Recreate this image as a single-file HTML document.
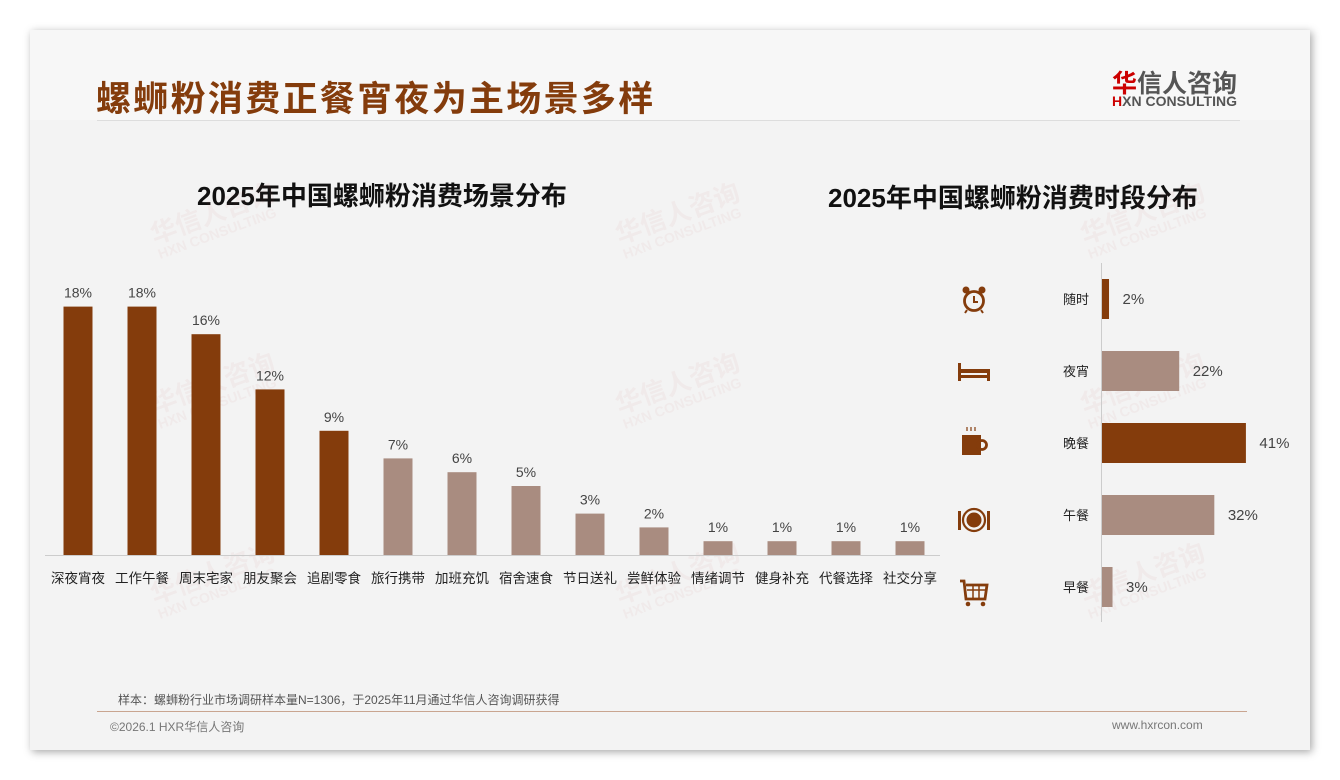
<!DOCTYPE html>
<html><head><meta charset="utf-8"><style>
body{margin:0;width:1340px;height:780px;background:#fff;font-family:"Liberation Sans","Noto Sans CJK SC",sans-serif;overflow:hidden;position:relative}
.card{position:absolute;left:30px;top:30px;width:1280px;height:720px;background:#f3f3f3;box-shadow:2px 2px 8px rgba(0,0,0,.35)}
.hdr{position:absolute;left:0;top:0;width:1280px;height:90px;background:#f7f7f7}
.t{position:absolute;white-space:nowrap}
.wm{position:absolute;color:rgba(200,80,80,.05);font-weight:bold;transform:rotate(-20deg);line-height:1}
</style></head><body>
<div class="card">
<div class="hdr"></div>
<div class="t" style="left:66px;top:41px;font-size:35px;font-weight:bold;color:#843c0c;letter-spacing:2.3px">螺蛳粉消费正餐宵夜为主场景多样</div>
<div class="t" style="left:1082px;top:34px;font-size:25px;font-weight:bold;color:#555"><span style="color:#c00">华</span>信人咨询</div>
<div class="t" style="left:1082px;top:63px;font-size:14px;font-weight:bold;color:#555"><span style="color:#c00">H</span>XN CONSULTING</div>
<div style="position:absolute;left:67px;top:90px;width:1143px;height:1px;background:#ddd"></div>
<div class="t" style="left:167px;top:146px;font-size:26px;font-weight:bold;color:#111">2025年中国螺蛳粉消费场景分布</div>
<div class="t" style="left:798px;top:148px;font-size:26px;font-weight:bold;color:#111">2025年中国螺蛳粉消费时段分布</div>
<div class="t" style="left:88px;top:661px;font-size:12px;color:#555">样本：螺蛳粉行业市场调研样本量N=1306，于2025年11月通过华信人咨询调研获得</div>
<div style="position:absolute;left:67px;top:681px;width:1150px;height:1px;background:#c9a590"></div>
<div class="t" style="left:80px;top:688px;font-size:12px;color:#777">©2026.1 HXR华信人咨询</div>
<div class="t" style="left:1082px;top:688px;font-size:12px;color:#777">www.hxrcon.com</div>
</div>
<div id="wms"></div>
<svg id="chart" width="1340" height="780" style="position:absolute;left:0;top:0"></svg>
<script>
const sceneCats=["深夜宵夜","工作午餐","周末宅家","朋友聚会","追剧零食","旅行携带","加班充饥","宿舍速食","节日送礼","尝鲜体验","情绪调节","健身补充","代餐选择","社交分享"];
const sceneVals=[18,18,16,12,9,7,6,5,3,2,1,1,1,1];
const timeCats=["随时","夜宵","晚餐","午餐","早餐"];
const timeVals=[2,22,41,32,3];
const timeDark=[true,false,true,false,false];
const DARK="#843c0c",LIGHT="#a98c80";
const svg=document.getElementById('chart');const NS="http://www.w3.org/2000/svg";
function mk(tag,a,txt){const e=document.createElementNS(NS,tag);for(const k in a)e.setAttribute(k,a[k]);if(txt!==undefined)e.textContent=txt;svg.appendChild(e);return e;}
const wmPos=[[150,230],[615,230],[1080,230],[150,400],[615,400],[1080,400],[150,590],[615,590],[1080,590]];
wmPos.forEach(p=>{const g=document.createElement('div');g.className='wm';g.style.left=p[0]+'px';g.style.top=(p[1]-30)+'px';g.innerHTML='<div style="font-size:26px">华信人咨询</div><div style="font-size:14px">HXN CONSULTING</div>';


document.getElementById('wms').appendChild(g);});
const base=555,x0=46,step=64,bw=29;
const yS=v=>v*13.8;
mk('line',{x1:45,x2:940,y1:base+0.5,y2:base+0.5,stroke:'#ccc'});
sceneCats.forEach((c,i)=>{const cx=x0+step*(i+0.5);const h=yS(sceneVals[i]);
const r=mk('rect',{x:cx-bw/2,y:base-h,width:bw,height:h,fill:i<5?DARK:LIGHT});


const l=mk('text',{x:cx,y:base-h-9,'text-anchor':'middle','font-size':14,fill:'#444'},sceneVals[i]+'%');


const t=mk('text',{x:cx,y:base+28,'text-anchor':'middle','font-size':13.5,fill:'#222'},c);


});
const ax=1101.5,rowTop=263,rowH=72,bh=40,xS=v=>v*3.51;
mk('line',{x1:ax,x2:ax,y1:263,y2:622,stroke:'#ccc'});
timeCats.forEach((c,i)=>{const cy=rowTop+rowH*(i+0.5);const w=xS(timeVals[i]);
const r=mk('rect',{x:ax+0.5,y:cy-bh/2,width:w,height:bh,fill:timeDark[i]?DARK:LIGHT});


const v=mk('text',{x:ax+w+14,y:cy+5,'font-size':15,fill:'#444'},timeVals[i]+'%');


const t=mk('text',{x:1076,y:cy+5,'text-anchor':'middle','font-size':13,fill:'#222'},c);


});
function g(name){const e=mk('g',{fill:DARK,stroke:DARK});return e;}
function add(p,tag,a){const e=document.createElementNS(NS,tag);for(const k in a)e.setAttribute(k,a[k]);p.appendChild(e);}
let ic=g('clock-icon');add(ic,'circle',{cx:974,cy:301,r:9.5,fill:'none','stroke-width':2.8});add(ic,'path',{d:'M974 296v6h4',fill:'none','stroke-width':2});add(ic,'circle',{cx:966,cy:290,r:3.5,stroke:'none'});add(ic,'circle',{cx:982,cy:290,r:3.5,stroke:'none'});add(ic,'path',{d:'M967 310l-2 3M981 310l2 3',fill:'none','stroke-width':2});
ic=g('bed-icon');add(ic,'rect',{x:958,y:363,width:3,height:18,stroke:'none'});add(ic,'rect',{x:987,y:369,width:3,height:12,stroke:'none'});add(ic,'rect',{x:958,y:375,width:32,height:3,stroke:'none'});add(ic,'rect',{x:961,y:369,width:26,height:4,stroke:'none'});
ic=g('cup-icon');add(ic,'rect',{x:962,y:435,width:19,height:20,stroke:'none'});add(ic,'circle',{cx:982,cy:445,r:4.5,fill:'none','stroke-width':2.8});add(ic,'path',{d:'M967 431v-4M971 431v-4M975 431v-4',fill:'none','stroke-width':1.2});
ic=g('plate-icon');add(ic,'circle',{cx:974,cy:520,r:11,fill:'none','stroke-width':2.2});add(ic,'circle',{cx:974,cy:520,r:7.5,stroke:'none'});add(ic,'rect',{x:958,y:511,width:3,height:19,stroke:'none'});add(ic,'rect',{x:987,y:511,width:3,height:19,stroke:'none'});
ic=g('cart-icon');add(ic,'path',{d:'M960 581h4l2 18h19l2-14h-21',fill:'none','stroke-width':2.8});add(ic,'path',{d:'M967 590h19M973 586v13M979 586v13',fill:'none','stroke-width':1.5});add(ic,'circle',{cx:968,cy:604,r:2.3,stroke:'none'});add(ic,'circle',{cx:983,cy:604,r:2.3,stroke:'none'});
</script>
</body></html>
